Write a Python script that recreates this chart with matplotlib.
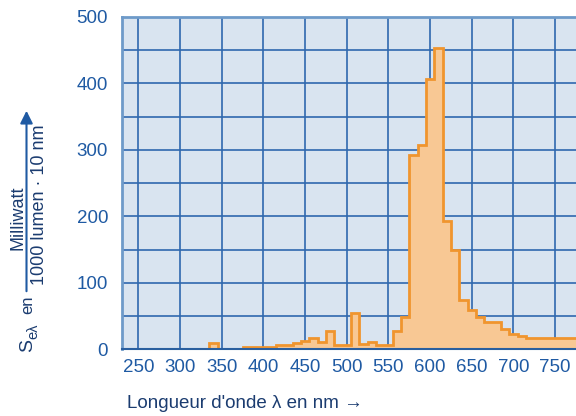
import matplotlib
matplotlib.use("Agg")
import matplotlib.pyplot as plt
import numpy as np

# ---- data ----
uv_edges = [335, 345]
uv_values = [9]

vis_edges = [375, 415, 435, 445, 455, 465, 475, 485, 505, 515, 525, 535, 555,
             565, 575, 585, 595, 605, 615, 625, 635, 645, 655, 665, 685, 695,
             705, 715, 780]
vis_values = [4, 6, 9.5, 13, 16.5, 11, 28, 6, 55, 8, 10.5, 6.5, 27,
              49, 293, 307, 407, 454, 193, 149, 74, 59, 49, 41, 31,
              23, 20, 16.5]

x_ticks = [250, 300, 350, 400, 450, 500, 550, 600, 650, 700, 750]
y_ticks = [0, 100, 200, 300, 400, 500]

FONT = ['Liberation Sans Narrow', 'Liberation Sans', 'DejaVu Sans']
plt.rcParams['font.family'] = FONT

W, H = 576, 416
fig = plt.figure(figsize=(W / 100, H / 100), dpi=100)

# axes placement in pixels
left, right, top, bottom = 122, 576, 17, 349.3
ax = fig.add_axes([left / W, (H - bottom) / H, (right - left) / W, (bottom - top) / H])

ax.set_facecolor('#d9e4f0')
ax.set_xlim(230.4, 775.2)
ax.set_ylim(0, 500)

fill_c = '#f8c894'
edge_c = '#f0952e'
for e, v in ((uv_edges, uv_values), (vis_edges, vis_values)):
    ax.stairs(v, e, baseline=0, fill=True, color=fill_c, zorder=2)
    ax.stairs(v, e, baseline=0, fill=False, color=edge_c, lw=2, zorder=3)

# grid
grid_c = '#2f68ae'
ax.set_xticks(x_ticks)
ax.set_yticks(np.arange(0, 501, 50))
ax.set_yticklabels([str(t) if t in y_ticks else '' for t in np.arange(0, 501, 50)])
ax.grid(True, color=grid_c, lw=1.2, zorder=1)
ax.set_axisbelow(True)

tick_c = '#1f5aa3'
ax.tick_params(axis='both', length=0, labelcolor=tick_c, labelsize=13.5)
ax.tick_params(axis='y', pad=10)
ax.tick_params(axis='x', pad=7)

for s in ['right']:
    ax.spines[s].set_visible(False)
for s in ['top', 'left']:
    ax.spines[s].set_color('#6e9ac9')
    ax.spines[s].set_linewidth(2)
ax.spines['bottom'].set_color('#2a5f9f')
ax.spines['bottom'].set_linewidth(1.5)
ax.spines['bottom'].set_zorder(4)

txt_c = '#1b3c70'

def px(x, y):
    return x / W, (H - y) / H

# x label
fig.text(*px(127, 403), "Longueur d'onde λ en nm →", ha='left', va='center',
         fontsize=13.5, color=txt_c)

# y label pieces
fig.text(*px(27.5, 345), "S", rotation=90, ha='center', va='center',
         fontsize=14, color=txt_c)
fig.text(*px(33, 331), "eλ", rotation=90, ha='center', va='center',
         fontsize=10.5, color=txt_c)
fig.text(*px(28, 305), "en", rotation=90, ha='center', va='center',
         fontsize=12, color=txt_c)
fig.text(*px(18, 218), "Milliwatt", rotation=90, ha='center', va='center',
         fontsize=13, color=txt_c)
fig.text(*px(40, 205), "1000 lumen · 10 nm", rotation=90, ha='center', va='center',
         fontsize=13, color=txt_c)

# arrow (fraction bar)
fig.add_artist(matplotlib.patches.FancyArrowPatch(
    px(26.5, 294), px(26.5, 108), transform=fig.transFigure,
    arrowstyle='-|>,head_length=5,head_width=2.5', mutation_scale=1.5,
    color='#1f5aa3', lw=1.5))

fig.savefig('out.png', dpi=100)
